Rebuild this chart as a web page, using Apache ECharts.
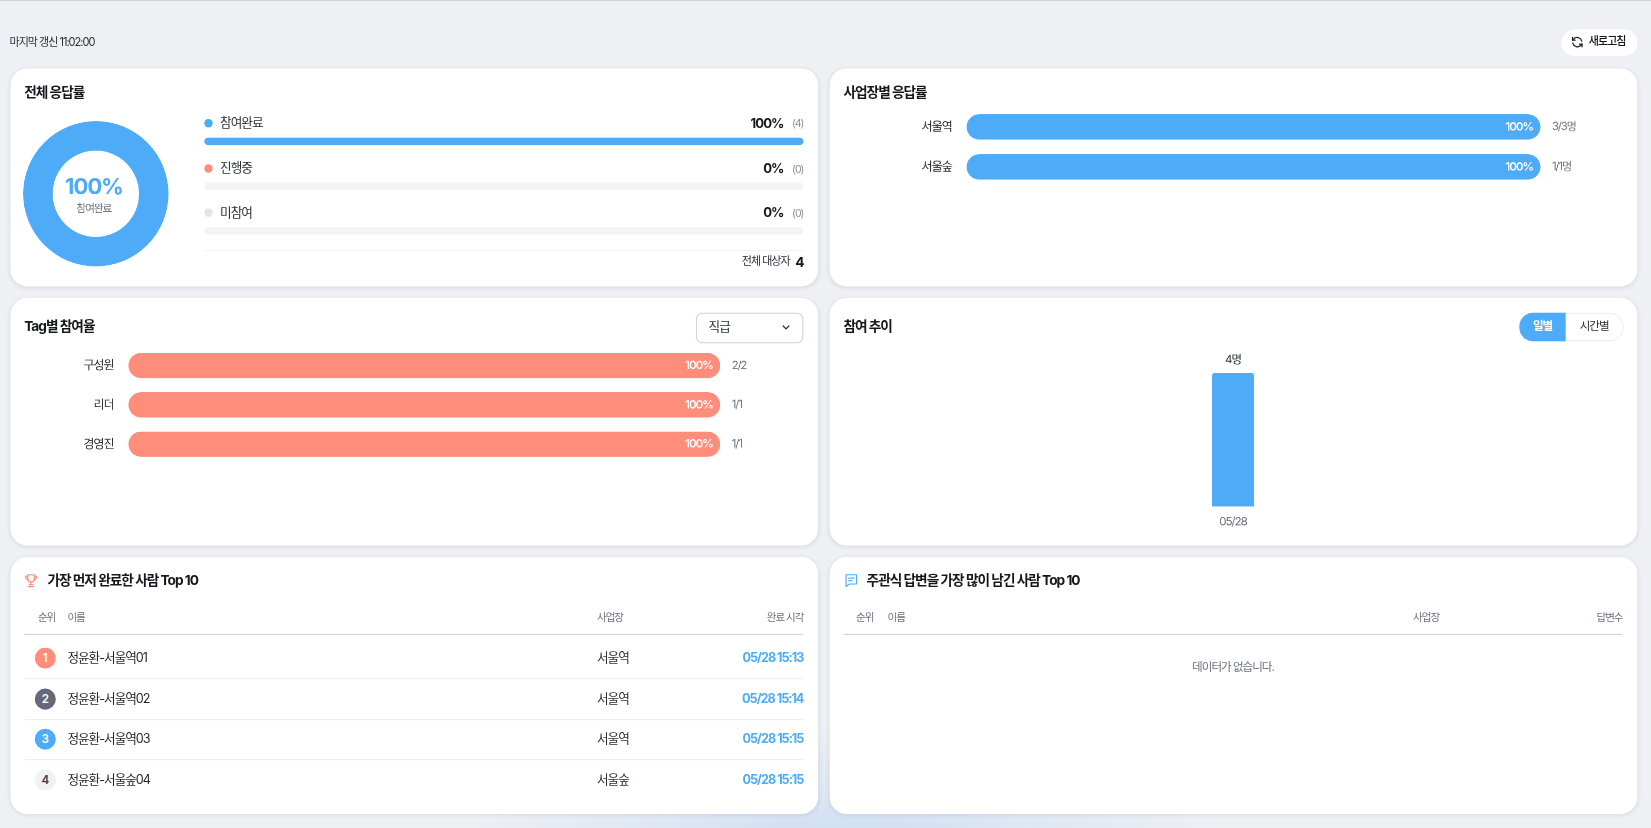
<!DOCTYPE html>
<html lang="ko">
<head>
<meta charset="utf-8">
<title>응답 현황</title>
<script src="https://cdn.jsdelivr.net/npm/echarts@6.0.0/dist/echarts.min.js"></script>
<style>
  html, body { margin: 0; padding: 0; }
  body {
    width: 1651px; height: 828px; overflow: hidden; position: relative;
    background: #eef0f4; color: #1f2329;
    font-family: Inter, "Noto Sans CJK KR", sans-serif;
    letter-spacing: -0.06em;
  }
  /* 1568px 기준으로 배치하고 화면 폭에 맞춰 확대 */
  #page {
    position: absolute; left: 0; top: 0; width: 1568px; height: 787px;
    transform: scale(1.05293); transform-origin: 0 0;
  }
  .topline { position: absolute; left: 0; top: 0; width: 1568px; height: 1px; background: #cbd1dd; }
  .glow {
    position: absolute; left: 420px; top: 690px; width: 760px; height: 280px;
    background: radial-gradient(ellipse at center, rgba(178, 206, 243, 0.75) 0%, rgba(178, 206, 243, 0.25) 40%, rgba(238, 240, 244, 0) 70%);
  }
  .card {
    position: absolute; background: #fff; border-radius: 16px;
    box-shadow: 0 1px 4px rgba(30, 40, 70, 0.10);
  }
  .t, .tr, .tc { position: absolute; white-space: nowrap; line-height: 1.2; }
  .t { transform: translateY(-50%); }
  .tr { transform: translate(-100%, -50%); }
  .tc { transform: translate(-50%, -50%); }
  .title { font-size: 13px; font-weight: 700; color: #15171c; }
  .th { font-size: 10px; color: #6b7280; }
  .chart { position: absolute; }
  .dot { position: absolute; width: 8px; height: 8px; border-radius: 50%; }
  .line { position: absolute; height: 1px; }
  .badge {
    position: absolute; width: 20px; height: 20px; border-radius: 50%; letter-spacing: 0;
    font-size: 11px; font-weight: 600; line-height: 20px; text-align: center; color: #fff;
  }
</style>
</head>
<body>
<div id="page">
<div class="topline"></div>
<div class="glow"></div>

<!-- 카드 -->
<div class="card" style="left:10px;top:65px;width:767px;height:207px"></div>
<div class="card" style="left:788px;top:65px;width:767px;height:207px"></div>
<div class="card" style="left:10px;top:283px;width:767px;height:235px"></div>
<div class="card" style="left:788px;top:283px;width:767px;height:235px"></div>
<div class="card" style="left:10px;top:529px;width:767px;height:244px"></div>
<div class="card" style="left:788px;top:529px;width:767px;height:244px"></div>

<!-- 상단 -->
<div class="t" style="left:9px;top:40.5px;font-size:10.5px;color:#2b2f36">마지막 갱신 11:02:00</div>
<div style="position:absolute;left:1483px;top:28px;width:72px;height:25px;border-radius:13px;background:#fff"></div>
<svg style="position:absolute;left:1492px;top:34px" width="12" height="12" viewBox="0 0 24 24" fill="none" stroke="#222" stroke-width="2.4" stroke-linecap="round" stroke-linejoin="round"><path d="M20.5 10A9 9 0 0 0 5 6L3 8"/><path d="M3 3v5h5"/><path d="M3.5 14A9 9 0 0 0 19 18l2-2"/><path d="M21 21v-5h-5"/></svg>
<div class="t" style="left:1509px;top:40px;font-size:10.5px;font-weight:500;color:#15171c">새로고침</div>

<!-- 전체 응답률 -->
<div class="t title" style="left:23px;top:88px">전체 응답률</div>
<div id="donut" class="chart" style="left:16px;top:109px;width:150px;height:150px"></div>
<div id="legendText"></div>
<div id="progress" class="chart" style="left:194px;top:108px;width:569px;height:134px"></div>
<div class="line" style="left:194px;top:237px;width:569px;background:#ececef"></div>
<div class="tr" style="left:750px;top:249px;font-size:10.5px;color:#2b2f36">전체 대상자</div>
<div id="totalText" class="tr" style="left:763px;top:249px;font-size:13px;font-weight:700;color:#15171c"></div>

<!-- 사업장별 응답률 -->
<div class="t title" style="left:801px;top:88px">사업장별 응답률</div>
<div id="siteChart" class="chart" style="left:801px;top:95px;width:740px;height:90px"></div>

<!-- Tag별 참여율 -->
<div class="t title" style="left:23px;top:310px">Tag별 참여율</div>
<div style="position:absolute;left:661px;top:297px;width:100px;height:27px;border:1px solid #cdd3df;border-radius:6px;background:#fff"></div>
<div class="t" style="left:673px;top:311px;font-size:12px;color:#2b2f36">직급</div>
<svg style="position:absolute;left:742px;top:307px" width="9" height="8" viewBox="0 0 10 8" fill="none" stroke="#333" stroke-width="1.4" stroke-linecap="round" stroke-linejoin="round"><path d="M2 2.5l3 3 3-3"/></svg>
<div id="tagChart" class="chart" style="left:23px;top:325px;width:740px;height:118px"></div>

<!-- 참여 추이 -->
<div class="t title" style="left:801px;top:310px">참여 추이</div>
<div style="position:absolute;left:1443px;top:297px;width:97px;height:25px;border:1px solid #eceef2;border-radius:13px;background:#fff"></div>
<div style="position:absolute;left:1443px;top:297px;width:44px;height:27px;border-radius:13px 0 0 13px;background:#4dabf7"></div>
<div class="tc" style="left:1465px;top:310px;font-size:11px;font-weight:600;color:#fff">일별</div>
<div class="tc" style="left:1514px;top:310px;font-size:11px;color:#2b2f36">시간별</div>
<div id="trendChart" class="chart" style="left:801px;top:330px;width:740px;height:180px"></div>

<!-- 가장 먼저 완료한 사람 -->
<svg style="position:absolute;left:22px;top:544px" width="15" height="15" viewBox="0 0 24 24" fill="none" stroke="#ff8d7c" stroke-width="1.8" stroke-linecap="round" stroke-linejoin="round"><path d="M7 3h10v6a5 5 0 0 1-10 0z"/><path d="M7 5H4a3.5 3.5 0 0 0 3.5 5M17 5h3a3.5 3.5 0 0 1-3.5 5"/><path d="M12 14v4M8 21h8M9.5 18h5"/></svg>
<div class="t title" style="left:45px;top:551px">가장 먼저 완료한 사람 Top 10</div>
<div class="t th" style="left:36px;top:586px">순위</div>
<div class="t th" style="left:64px;top:586px">이름</div>
<div class="t th" style="left:567px;top:586px">사업장</div>
<div class="tr th" style="left:763px;top:586px">완료 시각</div>
<div class="line" style="left:23px;top:602px;width:740px;background:#cfd3de"></div>
<div id="topRows"></div>

<!-- 주관식 답변 -->
<svg style="position:absolute;left:801px;top:544px" width="15" height="15" viewBox="0 0 24 24" fill="none" stroke="#4dabf7" stroke-width="1.8" stroke-linecap="round" stroke-linejoin="round"><path d="M4 3h16v14H9l-5 4z"/><path d="M8 8h8M8 12h5"/></svg>
<div class="t title" style="left:823px;top:551px">주관식 답변을 가장 많이 남긴 사람 Top 10</div>
<div class="t th" style="left:813px;top:586px">순위</div>
<div class="t th" style="left:843px;top:586px">이름</div>
<div class="t th" style="left:1342px;top:586px">사업장</div>
<div class="tr th" style="left:1541px;top:586px">답변수</div>
<div class="line" style="left:801px;top:602px;width:740px;background:#cfd3de"></div>
<div class="tc" style="left:1171px;top:634px;font-size:11px;color:#6b7280">데이터가 없습니다.</div>
</div>

<script>
// 데이터
var statusNames = ['참여완료', '진행중', '미참여'];
var statusCounts = [4, 0, 0];
var statusColors = ['#4dabf7', '#ff8d7c', '#dfe5ee'];

var siteNames = ['서울역', '서울숲'];
var siteDone = [3, 1];
var siteTotal = [3, 1];

var tagNames = ['구성원', '리더', '경영진'];
var tagDone = [2, 1, 1];
var tagTotal = [2, 1, 1];

var trendDates = ['05/28'];
var trendCounts = [4];

var topNames = ['정윤환-서울역01', '정윤환-서울역02', '정윤환-서울역03', '정윤환-서울숲04'];
var topSites = ['서울역', '서울역', '서울역', '서울숲'];
var topTimes = ['05/28 15:13', '05/28 15:14', '05/28 15:15', '05/28 15:15'];
var badgeColors = ['#ff8d7c', '#646a7a', '#4dabf7', '#f0f1f3'];

var BLUE = '#4dabf7';
var SALMON = '#ff8d7c';
var FONT = 'Inter, "Noto Sans CJK KR", sans-serif';

var total = statusCounts.reduce(function (a, b) { return a + b; }, 0);
function pct(a, b) { return b ? Math.round(a / b * 100) : 0; }
function initChart(id) {
  // 확대해도 흐려지지 않게 2배로 그림
  return echarts.init(document.getElementById(id), null, { devicePixelRatio: 2 });
}

// 범례 텍스트
var legendRowsY = [117, 159.5, 202];
var legendHtml = '';
statusNames.forEach(function (n, i) {
  var y = legendRowsY[i];
  legendHtml += '<div class="dot" style="left:194px;top:' + (y - 4) + 'px;background:' + statusColors[i] + '"></div>';
  legendHtml += '<div class="t" style="left:209px;top:' + y + 'px;font-size:12px;color:#2b2f36">' + n + '</div>';
  legendHtml += '<div class="tr" style="left:744px;top:' + y + 'px;font-size:12.5px;font-weight:700;color:#15171c">' + pct(statusCounts[i], total) + '%</div>';
  legendHtml += '<div class="tr" style="left:763px;top:' + y + 'px;font-size:10px;color:#8a8f99">(' + statusCounts[i] + ')</div>';
});
document.getElementById('legendText').innerHTML = legendHtml;
document.getElementById('totalText').textContent = total;

// 도넛
var donut = initChart('donut');
donut.setOption({
  animation: false,
  series: [{
    type: 'pie',
    radius: [41, 69],
    center: ['50%', '50%'],
    silent: true,
    label: { show: false },
    labelLine: { show: false },
    data: statusNames.map(function (n, i) {
      return { name: n, value: statusCounts[i], itemStyle: { color: statusColors[i] } };
    })
  }],
  graphic: [
    { type: 'text', left: 'center', top: 58.5,
      style: { text: pct(statusCounts[0], total) + '%', fill: BLUE, fontSize: 21, fontWeight: 700, fontFamily: FONT } },
    { type: 'text', left: 'center', top: 84.5,
      style: { text: statusNames[0], fill: '#6b7280', fontSize: 10, fontFamily: FONT } }
  ]
});

// 진행 막대
var progress = initChart('progress');
progress.setOption({
  animation: false,
  grid: { left: 0, right: 0, top: 5, bottom: 1.5, outerBoundsMode: 'none' },
  xAxis: { type: 'value', min: 0, max: total, show: false },
  yAxis: { type: 'category', inverse: true, data: statusNames, show: false },
  series: [{
    type: 'bar',
    barWidth: 7,
    silent: true,
    showBackground: true,
    backgroundStyle: { color: '#f2f3f5', borderRadius: 4 },
    data: statusCounts.map(function (v, i) {
      return { value: v, itemStyle: { color: statusColors[i], borderRadius: 4 } };
    })
  }]
});

// 가로 막대 공통
function hbarOption(names, done, totals, color, unit, grid) {
  return {
    animation: false,
    textStyle: { fontFamily: FONT },
    grid: grid,
    xAxis: { type: 'value', min: 0, max: 100, show: false },
    yAxis: [{
      type: 'category', inverse: true, data: names,
      axisLine: { show: false }, axisTick: { show: false },
      axisLabel: { margin: 14, fontSize: 11.5, color: '#2b2f36', fontFamily: FONT }
    }, {
      type: 'category', inverse: true, position: 'right',
      data: names.map(function (n, i) { return done[i] + '/' + totals[i] + unit; }),
      axisLine: { show: false }, axisTick: { show: false },
      axisLabel: { margin: 11, fontSize: 10.5, color: '#6b7280', fontFamily: FONT }
    }],
    series: [{
      type: 'bar',
      yAxisIndex: 0,
      barWidth: 24,
      silent: true,
      data: names.map(function (n, i) { return pct(done[i], totals[i]); }),
      itemStyle: { color: color, borderRadius: 12 },
      label: {
        show: true, position: 'insideRight', distance: 7, formatter: '{c}%',
        color: '#fff', fontSize: 11, fontWeight: 600, fontFamily: FONT
      }
    }]
  };
}

var siteChart = initChart('siteChart');
siteChart.setOption(hbarOption(siteNames, siteDone, siteTotal, BLUE, '명',
  { left: 117, right: 78, top: 6.5, bottom: 7.5, outerBoundsMode: 'none' }));

var tagChart = initChart('tagChart');
tagChart.setOption(hbarOption(tagNames, tagDone, tagTotal, SALMON, '',
  { left: 99, right: 79, top: 3.5, bottom: 2.5, outerBoundsMode: 'none' }));

// 참여 추이
var trendChart = initChart('trendChart');
trendChart.setOption({
  animation: false,
  grid: { left: 0, right: 0, top: 24, bottom: 29, outerBoundsMode: 'none' },
  xAxis: {
    type: 'category', data: trendDates,
    axisLine: { show: false }, axisTick: { show: false },
    axisLabel: { margin: 9, fontSize: 11, color: '#6b7280', fontFamily: FONT }
  },
  yAxis: { type: 'value', min: 0, max: function (v) { return v.max; }, show: false, splitLine: { show: false } },
  series: [{
    type: 'bar',
    barWidth: 40,
    silent: true,
    data: trendCounts,
    itemStyle: { color: BLUE, borderRadius: [3, 3, 0, 0] },
    label: { show: true, position: 'top', distance: 7, formatter: '{c}명', color: '#2b2f36', fontSize: 11, fontFamily: FONT }
  }]
});

// 순위 표
var rowY = [625, 663.5, 702, 741];
var rowsHtml = '';
topNames.forEach(function (n, i) {
  var y = rowY[i];
  rowsHtml += '<div class="badge" style="left:33px;top:' + (y - 10) + 'px;background:' + badgeColors[i] + ';color:' + (i === 3 ? '#3a3f47' : '#fff') + '">' + (i + 1) + '</div>';
  rowsHtml += '<div class="t" style="left:64px;top:' + y + 'px;font-size:12px;color:#1f2329">' + n + '</div>';
  rowsHtml += '<div class="t" style="left:567px;top:' + y + 'px;font-size:12px;color:#2b2f36">' + topSites[i] + '</div>';
  rowsHtml += '<div class="tr" style="left:763px;top:' + y + 'px;font-size:12px;font-weight:700;color:' + BLUE + '">' + topTimes[i] + '</div>';
  if (i < topNames.length - 1) {
    rowsHtml += '<div class="line" style="left:23px;top:' + Math.round(y + 19) + 'px;width:740px;background:#efeff2"></div>';
  }
});
document.getElementById('topRows').innerHTML = rowsHtml;
</script>
</body>
</html>
